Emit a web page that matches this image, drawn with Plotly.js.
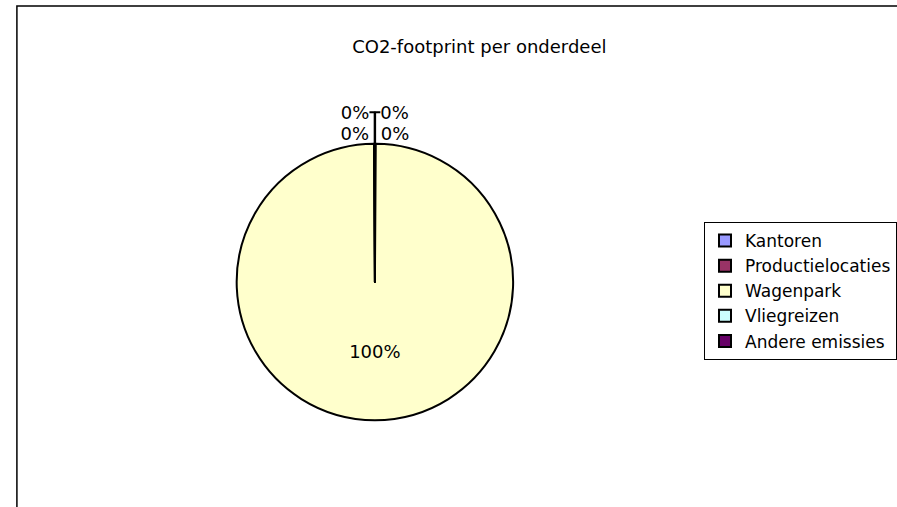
<!DOCTYPE html>
<html>
<head>
<meta charset="utf-8">
<script src="https://cdn.plot.ly/plotly-3.0.1.min.js"></script>
<style>html,body{margin:0;padding:0;background:#fff;}#chart{width:897px;height:507px;}</style>
</head>
<body>
<div id="chart"></div>
<script>
const categories = ['Kantoren', 'Productielocaties', 'Wagenpark', 'Vliegreizen', 'Andere emissies'];
const values = [0.05, 0.05, 100, 0.05, 0.05];
const colors = ['#9999FF', '#993366', '#FFFFCC', '#CCFFFF', '#660066'];
const textPositions = ['outside', 'outside', 'inside', 'outside', 'outside'];
const W = 897, H = 507;
const cx = 377, cy = 282, r = 139;

const trace = {
  type: 'pie',
  labels: categories,
  values: values,
  sort: false,
  direction: 'clockwise',
  rotation: 0,
  marker: {colors: colors, line: {color: '#000', width: 2}},
  texttemplate: '%{percent:.0%}',
  textposition: textPositions,
  insidetextorientation: 'horizontal',
  textfont: {family: 'DejaVu Sans', size: 18, color: '#000'},
  outsidetextfont: {family: 'DejaVu Sans', size: 18, color: '#000'},
  hoverinfo: 'label+percent',
  domain: {x: [(cx - r) / W, (cx + r) / W], y: [1 - (cy + r) / H, 1 - (cy - r) / H]},
  automargin: false
};

const layout = {
  width: W, height: H,
  margin: {l: 0, r: 0, t: 0, b: 0},
  paper_bgcolor: '#fff',
  font: {family: 'DejaVu Sans', color: '#000'},
  title: {text: 'CO2-footprint per onderdeel', font: {family: 'DejaVu Sans', size: 18, color: '#000'},
          x: 482 / W, xanchor: 'center', y: 1 - 47 / H, yanchor: 'middle', xref: 'paper', yref: 'paper'},
  showlegend: true,
  legend: {x: 708 / W, xanchor: 'left', y: 1 - 222 / H, yanchor: 'top',
           bgcolor: '#fff', bordercolor: '#000', borderwidth: 1,
           font: {family: 'DejaVu Sans', size: 17, color: '#000'}, itemwidth: 30},
  shapes: [{type: 'rect', xref: 'paper', yref: 'paper', x0: 17 / W, x1: 1.05, y0: -0.05, y1: 1 - 6 / H,
            line: {color: '#000', width: 1.5}}]
};

Plotly.newPlot('chart', [trace], layout, {displayModeBar: false, staticPlot: true});
</script>
</body>
</html>
